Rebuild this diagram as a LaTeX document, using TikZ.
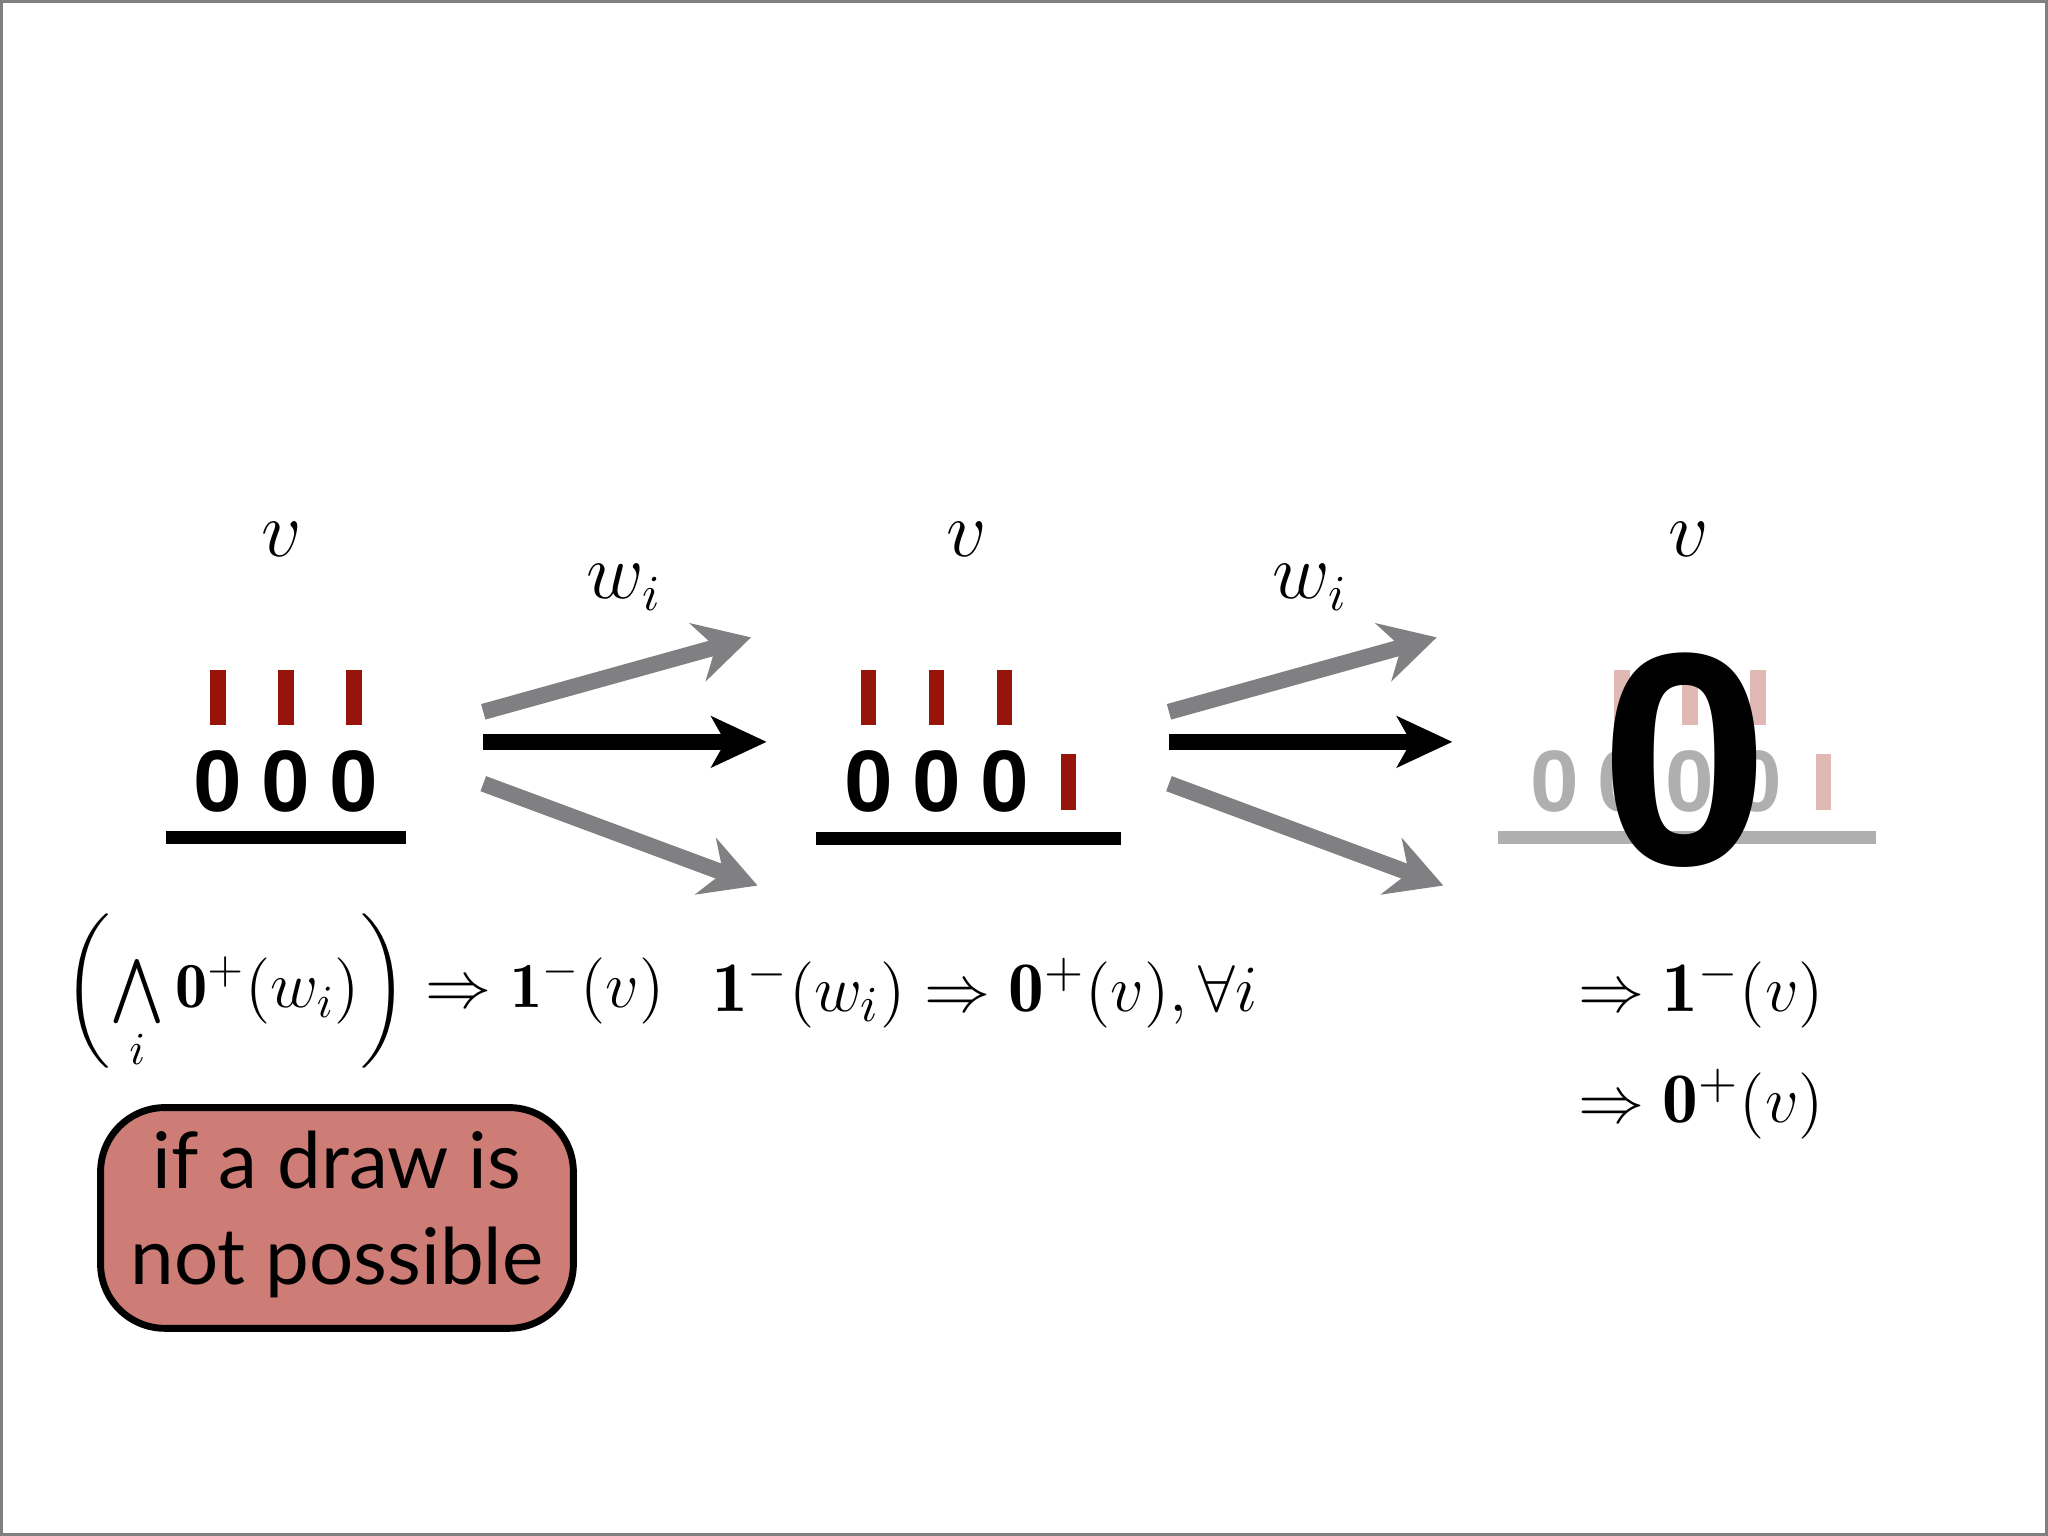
\documentclass[tikz,border=0pt]{standalone}
\usetikzlibrary{arrows.meta}
\usepackage{amsmath,amssymb}
\usepackage{fontspec}
\newfontfamily\digf{Liberation Sans}
\newfontfamily\boxf{Lato}
\definecolor{dred}{RGB}{150,20,10}
\definecolor{pinkf}{RGB}{225,185,180}
\definecolor{grayf}{RGB}{175,175,175}
\definecolor{arrg}{RGB}{128,128,130}
\definecolor{boxc}{RGB}{205,125,118}
\begin{document}
\begin{tikzpicture}[x=0.01cm,y=-0.01cm,
  bar/.style={fill=dred},
  fbar/.style={fill=pinkf},
  dig/.style={font=\digf\bfseries\fontsize{19}{20}\selectfont},
  lab/.style={font=\fontsize{16}{18}\selectfont},
  frm/.style={font=\fontsize{15.5}{18}\selectfont,anchor=west},
  garr/.style={draw=arrg,line width=3.5pt,-{Stealth[length=12pt,width=13pt,inset=4pt]}},
  barr/.style={draw=black,line width=3.5pt,-{Stealth[length=12pt,width=11pt,inset=3pt]}}]
\useasboundingbox (0,0) rectangle (1568,1176);
\draw[gray,line width=0.6pt] (1,1) rectangle (1567,1175);
% column 1
\node[lab] (v1) at (216,413) {$v$};
\foreach \x in {167,219,271} \fill[bar] (\x-6,513) rectangle (\x+6,555);
\foreach \x/\n in {167/a,219/b,271/c} \node[dig] (d1\n) at (\x,598) {0};
\draw[line width=2.8pt] (127,641) -- (311,641);
% arrows 1
\coordinate (s1a) at (370,545); \coordinate (e1a) at (575,488);
\coordinate (s1b) at (370,568); \coordinate (e1b) at (587,568);
\coordinate (s1c) at (370,600); \coordinate (e1c) at (580,678);
\draw[garr] (s1a) -- (e1a);
\draw[barr] (s1b) -- (e1b);
\draw[garr] (s1c) -- (e1c);
\node[lab] (w1) at (478,450) {$w_i$};
% column 2
\node[lab] (v2) at (740,413) {$v$};
\foreach \x in {665,717,769} \fill[bar] (\x-6,513) rectangle (\x+6,555);
\foreach \x/\n in {665/a,717/b,769/c} \node[dig] (d2\n) at (\x,598) {0};
\fill[bar] (812,577) rectangle (824,620);
\draw[line width=2.8pt] (625,642) -- (858,642);
% arrows 2
\coordinate (s2a) at (895,545); \coordinate (e2a) at (1100,488);
\coordinate (s2b) at (895,568); \coordinate (e2b) at (1112,568);
\coordinate (s2c) at (895,600); \coordinate (e2c) at (1105,678);
\draw[garr] (s2a) -- (e2a);
\draw[barr] (s2b) -- (e2b);
\draw[garr] (s2c) -- (e2c);
\node[lab] (w2) at (1003,450) {$w_i$};
% column 3 (faded)
\node[lab] (v3) at (1293,413) {$v$};
\foreach \x in {1242,1294,1346} \fill[fbar] (\x-6,513) rectangle (\x+6,555);
\foreach \x/\n in {1190/a,1242/b,1294/c,1346/d} \node[dig,text=grayf] (d3\n) at (\x,598) {0};
\fill[fbar] (1390,577) rectangle (1402,620);
\draw[grayf,line width=2.8pt] (1147,641) -- (1436,641);
\node[font=\digf\bfseries\fontsize{66}{70}\selectfont] (big) at (1290,582) {0};
% formulas
\node[frm,font=\fontsize{14}{17}\selectfont] (f1) at (36,760) {$\left(\mathop{\textstyle\bigwedge}\limits_i \mathbf{0}^{+}(w_i)\right)\Rightarrow \mathbf{1}^{-}(v)$};
\node[frm] (f2) at (533,760) {$\mathbf{1}^{-}(w_i)\Rightarrow\mathbf{0}^{+}(v),\forall i$};
\node[frm] (f3) at (1196,760) {$\Rightarrow\mathbf{1}^{-}(v)$};
\node[frm] (f4) at (1196,845) {$\Rightarrow\mathbf{0}^{+}(v)$};
% box
\draw[black,line width=1.5pt,fill=boxc,rounded corners=14pt] (77,848) rectangle (439,1017);
\node[font=\boxf\fontsize{17}{21}\selectfont,align=center] (bt) at (258,930) {if a draw is\\not possible};
\end{tikzpicture}
\end{document}
